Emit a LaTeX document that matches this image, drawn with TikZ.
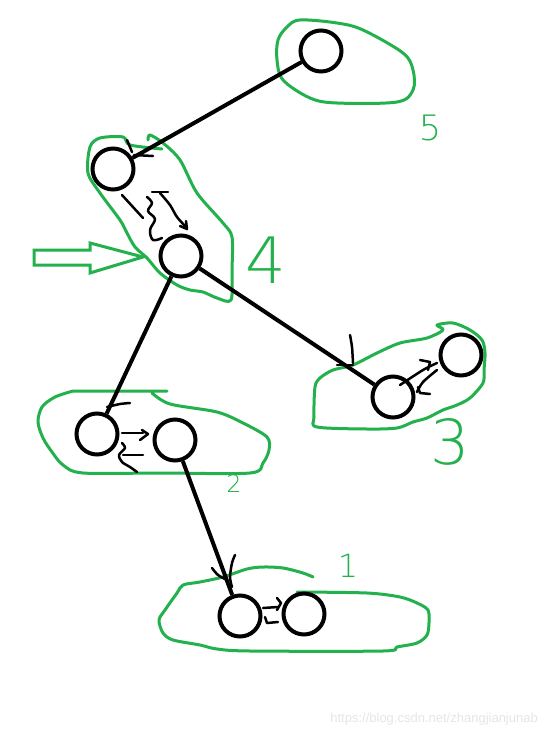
\documentclass[tikz,border=0pt]{standalone}
\usepackage{fontspec}
\setmainfont{Liberation Sans}
\IfFontExistsTF{DejaVu Sans ExtraLight}{\newfontfamily\handfont{DejaVu Sans ExtraLight}}{\newfontfamily\handfont{Liberation Sans}}
\definecolor{pgreen}{HTML}{22B14C}
\definecolor{wmark}{HTML}{E6E6E6}
\begin{document}
\begin{tikzpicture}[x=1pt,y=-1pt,
  vtx/.style={circle,draw=black,line width=4pt,minimum size=41pt,inner sep=0pt,fill=white},
  edge/.style={line width=4pt,black},
  hand/.style={line width=2.5pt,black,line cap=round,line join=round},
  blob/.style={line width=3pt,pgreen,line cap=round,line join=round},
  digit/.style={text=pgreen,inner sep=0pt,anchor=center}]
\useasboundingbox[fill=white] (0,0) rectangle (546,736);

% green blobs
\draw[blob] plot[smooth cycle,tension=0.55] coordinates {(300,20) (337,23) (363,30) (403,53) (413,70) (413,90) (397,102) (337,103) (310,98) (283,80) (277,60) (278,40) (287,27)};
\draw[blob] plot[smooth,tension=0.5] coordinates {(162,149) (130,145) (123,137) (100,138) (90,147) (88,173) (100,193) (120,220) (127,233) (135,247) (147,258) (160,273) (177,285) (190,290) (203,292) (217,298) (231,300) (232,270) (232,237) (223,223) (197,193) (180,160) (163,143) (150,135) (148,140)};
\draw[blob] plot[smooth cycle,tension=0.5] coordinates {(437,325) (453,323) (470,330) (482,340) (485,353) (484,370) (483,383) (470,398) (457,405) (443,410) (427,418) (413,422) (397,428) (367,429) (317,427) (314,417) (315,387) (320,378) (333,370) (353,365) (377,353) (400,343) (427,338) (443,330)};
\draw[blob] (167,391) -- (73,391) plot[smooth,tension=0.5] coordinates {(73,391) (55,397) (42,407) (38,422) (43,438) (52,452) (63,465) (83,473) (160,473) (250,473) (263,463) (269,450) (267,437) (243,423) (217,412) (170,404) (152,393)};
\draw[blob] plot[smooth,tension=0.5] coordinates {(313,577) (303,573) (283,568) (263,567) (247,569) (223,577) (200,582) (183,585) (177,593) (165,610) (159,620) (163,633) (173,640) (200,645) (217,649) (250,651) (383,651) (397,647) (417,643) (427,635) (429,623) (428,610) (417,603) (400,597) (367,593) (297,592)};

% green arrow
\draw[blob,line join=miter] (34,250) -- (90,250) -- (90,243) -- (143,257) -- (90,273) -- (90,265) -- (34,265) -- cycle;

% vertices
\node[vtx] (n5) at (321,51) {};
\node[vtx] (n4a) at (113,169) {};
\node[vtx] (n4b) at (181,256) {};
\node[vtx] (n3a) at (393,397) {};
\node[vtx] (n3b) at (461,355) {};
\node[vtx] (n2a) at (97,434) {};
\node[vtx] (n2b) at (175,440) {};
\node[vtx] (n1a) at (240,616) {};
\node[vtx] (n1b) at (304,614) {};

% tree edges
\draw[edge] (n5) -- (n4a);
\draw[edge] (n4b) -- (n2a);
\draw[edge] (n4b) -- (n3a);
\draw[edge] (n2b) -- (n1a);

% hand-drawn arrow marks
\draw[hand] (127,140) -- (132,152);
\draw[hand] (134,155) -- (153,156);
\draw[hand] (122,195) -- (143,218);
\draw[hand] (152,192) -- (168,192);
\draw[hand] plot[smooth,tension=0.6] coordinates {(147,197) (152,203) (148,211) (155,219) (150,230) (153,240) (162,238)};
\draw[hand] plot[smooth,tension=0.5] coordinates {(160,193) (170,205) (177,217) (187,228)};
\draw[hand] (180,226) -- (187,229) -- (186,221);
\draw[hand] plot[smooth,tension=0.5] coordinates {(350,335) (352,347) (353,363)};
\draw[hand] (337,365) -- (353,365);
\draw[hand] plot[smooth,tension=0.5] coordinates {(400,385) (423,370) (437,363)};
\draw[hand] (420,360) -- (430,362) -- (428,370);
\draw[hand] plot[smooth,tension=0.5] coordinates {(437,370) (423,382) (417,392)};
\draw[hand] (418,387) -- (420,393) -- (430,394);
\draw[hand] plot[smooth,tension=0.5] coordinates {(107,407) (120,404) (130,403)};
\draw[hand] (122,433) -- (143,433);
\draw[hand] (142,430) -- (148,434) -- (140,440);
\draw[hand] plot[smooth,tension=0.5] coordinates {(122,443) (125,448) (119,455) (122,462) (130,467) (137,472)};
\draw[hand] (123,455) -- (143,455);
\draw[hand] plot[smooth,tension=0.5] coordinates {(235,555) (232,563) (230,577) (232,587)};
\draw[hand] plot[smooth,tension=0.5] coordinates {(212,568) (218,575) (227,580)};
\draw[hand] (263,608) -- (278,607);
\draw[hand] (277,598) -- (281,603) -- (277,610);
\draw[hand] (278,622) -- (267,623) -- (265,617);

% digits
\node[digit,font=\handfont\fontsize{35}{35}\selectfont] (d5) at (430,128) {5};
\node[digit,font=\handfont\fontsize{64}{64}\selectfont] (d4) at (266,260) {4};
\node[digit,font=\handfont\fontsize{62}{62}\selectfont] (d3) at (450,442) {3};
\node[digit,font=\handfont\fontsize{24}{24}\selectfont] (d2) at (234,484) {2};
\node[digit,font=\handfont\fontsize{32}{32}\selectfont] (d1) at (348,566) {1};

% watermark
\node[text=wmark,font=\fontsize{13}{13}\selectfont,anchor=east,inner sep=0pt] (wm) at (538,719) {https://blog.csdn.net/zhangjianjunab};
\end{tikzpicture}
\end{document}
